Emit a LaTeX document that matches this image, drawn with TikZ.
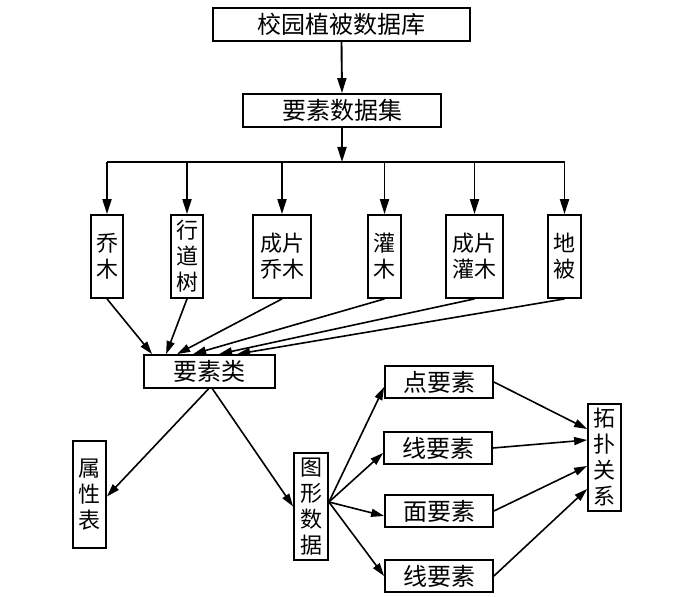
\documentclass[tikz,border=0pt]{standalone}
\usepackage{fontspec}
\setmainfont{Noto Sans CJK SC}
\usetikzlibrary{arrows.meta}

\begin{document}
\begin{tikzpicture}[x=1pt,y=-1pt,
  box/.style={draw,line width=1.8pt,inner sep=0pt,align=center,font=\fontsize{24}{28}\selectfont},
  vbox/.style={box,font=\fontsize{22}{26}\selectfont},
  arr/.style={line width=1.6pt,-{Triangle[length=13pt,width=8pt]}},
  bigarr/.style={line width=1.9pt,-{Triangle[length=15pt,width=9pt]}}]
\useasboundingbox (0,0) rectangle (700,596);
%draw boxes:
\node[box,minimum width=257pt,minimum height=33pt] (kuyu) at (341.5,24.5) {校园植被数据库};
\node[box,minimum width=198pt,minimum height=33pt] (ysj) at (342,110.5) {要素数据集};
\coordinate (split) at (342,162);
\node[vbox,minimum width=32pt,minimum height=83pt] (qm) at (107,256.5) {乔\\木};
\node[vbox,minimum width=32pt,minimum height=83pt] (xds) at (187,256.5) {行\\道\\树};
\node[vbox,minimum width=58pt,minimum height=83pt] (cpqm) at (282,256.5) {成片\\乔木};
\node[vbox,minimum width=33pt,minimum height=83pt] (gm) at (384.5,256.5) {灌\\木};
\node[vbox,minimum width=57pt,minimum height=83pt] (cpgm) at (474.5,256.5) {成片\\灌木};
\node[vbox,minimum width=33pt,minimum height=83pt] (dibei) at (564.5,256.5) {地\\被};
\node[box,minimum width=131pt,minimum height=33pt] (ysl) at (209.5,371.5) {要素类};
\node[vbox,minimum width=33pt,minimum height=107pt] (sxb) at (89.5,494.5) {属\\性\\表};
\node[vbox,minimum width=34pt,minimum height=107pt] (txsj) at (311,506.5) {图\\形\\数\\据};
\node[box,minimum width=108pt,minimum height=32pt] (dian) at (439,382) {点要素};
\node[box,minimum width=108pt,minimum height=32pt] (xian) at (438,448) {线要素};
\node[box,minimum width=108pt,minimum height=32pt] (mian) at (439,511) {面要素};
\node[box,minimum width=108pt,minimum height=32pt] (xiantwo) at (439,576) {线要素};
\node[vbox,minimum width=33pt,minimum height=107pt] (tuopu) at (604.5,457.5) {拓\\扑\\关\\系};
%draw top arrows:
\draw[bigarr] (kuyu.south) -- (ysj.north);
\draw[bigarr] (ysj.south) -- (split);
\draw[line width=1.9pt] (qm.north |- split) -- (dibei.north |- split);
\draw[bigarr] (qm.north |- split) -- (qm.north);
\draw[bigarr] (xds.north |- split) -- (xds.north);
\draw[bigarr] (cpqm.north |- split) -- (cpqm.north);
\draw[bigarr] (gm.north |- split) -- (gm.north);
\draw[bigarr] (cpgm.north |- split) -- (cpgm.north);
\draw[bigarr] (dibei.north |- split) -- (dibei.north);
%draw arrows to feature class:
\draw[arr] (qm.south) -- ([xshift=9pt]ysl.north west);
\draw[arr] (xds.south) -- ([xshift=23pt]ysl.north west);
\draw[arr] (cpqm.south) -- ([xshift=34pt]ysl.north west);
\draw[arr] (gm.south) -- ([xshift=50pt]ysl.north west);
\draw[arr] (cpgm.south) -- ([xshift=76pt]ysl.north west);
\draw[arr] (dibei.south) -- ([xshift=94pt]ysl.north west);
%draw lower arrows:
\draw[arr] ([xshift=-1pt]ysl.south) -- ([yshift=-2pt]sxb.east);
\draw[arr] ([xshift=3pt]ysl.south) -- (txsj.west);
\draw[arr] ([yshift=4.5pt]txsj.east) -- ([yshift=-5pt]dian.west);
\draw[arr] ([yshift=4.5pt]txsj.east) -- ([yshift=-5pt]xian.west);
\draw[arr] ([yshift=4.5pt]txsj.east) -- ([yshift=-5pt]mian.west);
\draw[arr] ([yshift=4.5pt]txsj.east) -- (xiantwo.west);
\draw[arr] (dian.east) -- ([yshift=28.5pt]tuopu.west);
\draw[arr] (xian.east) -- ([yshift=17.5pt]tuopu.west);
\draw[arr] (mian.east) -- ([yshift=-8.5pt]tuopu.west);
\draw[arr] (xiantwo.east) -- ([yshift=-31.5pt]tuopu.west);
\end{tikzpicture}
\end{document}
